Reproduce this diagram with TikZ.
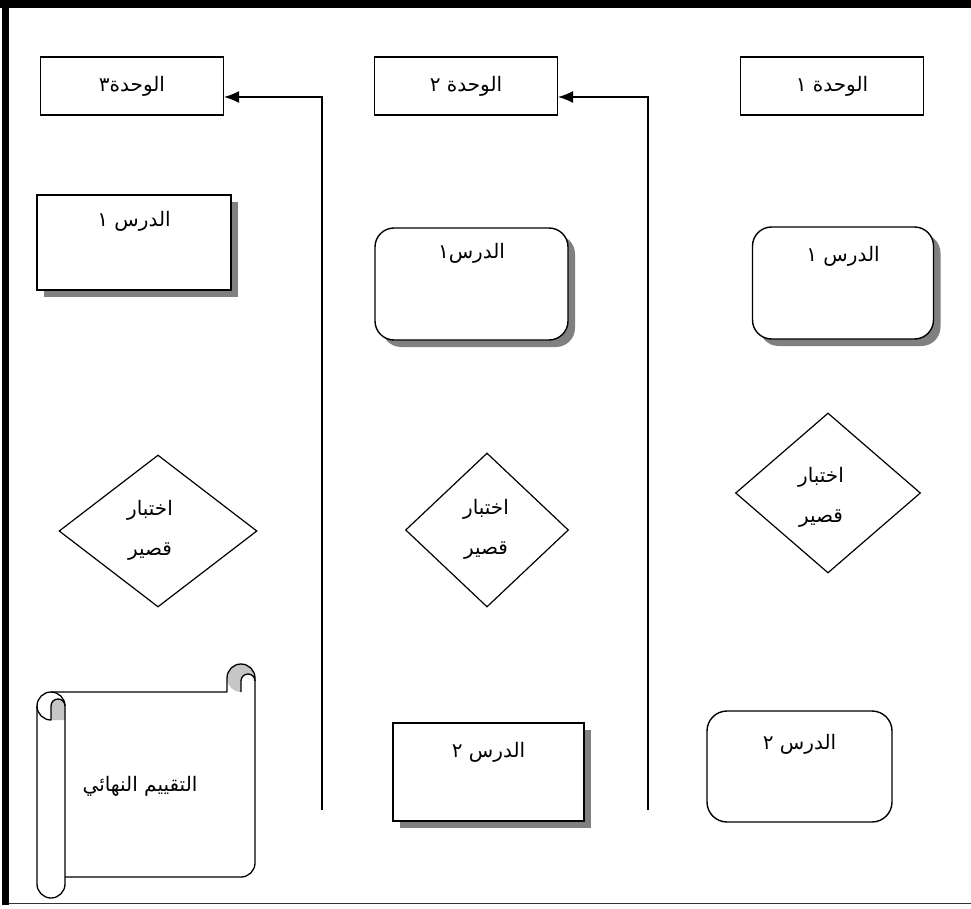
\documentclass[tikz,border=0pt]{standalone}
\usepackage{fontspec}
\usetikzlibrary{shapes.geometric,shadows,arrows.meta}
\newfontfamily\arabicfont[Script=Arabic]{DejaVu Sans}
\TeXXeTstate=1
\newcommand{\artext}[1]{{\arabicfont\beginR #1\endR}}
\tikzset{
  txt/.style={font=\fontsize{20}{40}\selectfont, inner sep=0pt, align=center},
  unitbox/.style={txt, draw, line width=1.1pt, minimum width=183pt, minimum height=58pt, fill=white},
  lessonbox/.style={draw, line width=1.4pt, inner sep=0pt, fill=white,
    drop shadow={shadow xshift=7pt, shadow yshift=-7pt, fill=gray, opacity=1}},
  roundbox/.style={lessonbox, rounded corners=19pt},
  quiz/.style={diamond, draw, line width=1.2pt, inner sep=0pt, fill=white},
  flow/.style={line width=1.3pt},
  tip/.style={-{Latex[length=15pt,width=12pt]}},
  scrollline/.style={line width=1.3pt, line join=round}
}
\begin{document}
\begin{tikzpicture}[x=1pt,y=-1pt]
\useasboundingbox (0,0) rectangle (971,909);
% page frame
\fill[white] (0,0) rectangle (971,909);
\fill[black] (0,0) rectangle (971,8);
\fill[black] (2,0) rectangle (9,905);
\draw[line width=1.2pt, black!80] (9,903.5) -- (971,903.5);

% unit headings
\node[unitbox] (U3) at (132,86) {\artext{الوحدة٣}};
\node[unitbox] (U2) at (466,86) {\artext{الوحدة ٢}};
\node[unitbox] (U1) at (832,86) {\artext{الوحدة ١}};

% unit 3 column
\node[lessonbox, minimum width=194pt, minimum height=95pt] (L31) at (134,242.5) {};
\node[txt] (L31t) at (134,221) {\artext{الدرس ١}};
\node[quiz, minimum width=198pt, minimum height=152pt] (D3) at (158,531) {};
\node[txt] (D3t) at (150,530) {\artext{اختبار}\\\artext{قصير}};

% final assessment scroll
\fill[gray!45] (241,678) circle[radius=14];
\fill[white] (241,692) -- (241,681) arc[start angle=180,end angle=360,radius=7] -- (255,692) -- cycle;
\draw[scrollline] (65,877) -- (241,877) arc[start angle=90,end angle=0,radius=14]
  -- (255,678) arc[start angle=0,end angle=-180,radius=14] -- (227,692) -- (51,692);
\draw[scrollline] (241,692) -- (241,681) arc[start angle=180,end angle=360,radius=7];
\fill[gray!45] (51,720) -- (51,706) arc[start angle=180,end angle=360,radius=7] -- (65,720) -- cycle;
\draw[scrollline, rounded corners=14pt] (37,692) rectangle (65,898);
\draw[scrollline] (37,706) arc[start angle=180,end angle=90,radius=14]
  -- (51,706) arc[start angle=180,end angle=360,radius=7];
\node[txt] (FINAL) at (140,786) {\artext{التقييم النهائي}};

% unit 2 column
\node[roundbox, minimum width=193pt, minimum height=112pt] (L21) at (471.5,284) {};
\node[txt] (L21t) at (471.5,253) {\artext{الدرس١}};
\node[quiz, minimum width=163pt, minimum height=154pt] (D2) at (487,530) {};
\node[txt] (D2t) at (486,529) {\artext{اختبار}\\\artext{قصير}};
\node[lessonbox, minimum width=191pt, minimum height=98pt] (L22) at (488.5,772) {};
\node[txt] (L22t) at (488.5,752) {\artext{الدرس ٢}};

% unit 1 column
\node[roundbox, minimum width=181pt, minimum height=112pt] (L11) at (843,283) {};
\node[txt] (L11t) at (843,256) {\artext{الدرس ١}};
\node[quiz, minimum width=185pt, minimum height=160pt] (D1) at (828,493) {};
\node[txt] (D1t) at (821,497) {\artext{اختبار}\\\artext{قصير}};
\node[draw, line width=1.4pt, rounded corners=20pt, inner sep=0pt,
      minimum width=185pt, minimum height=111pt] (L12) at (799.5,766.5) {};
\node[txt] (L12t) at (799.5,744) {\artext{الدرس ٢}};

% links between units
\coordinate (b3) at (322,810);
\coordinate (k3) at (322,97);
\draw[flow, tip] (b3) -- (k3) -- (U3.east |- k3);
\coordinate (b2) at (648,810);
\coordinate (k2) at (648,97);
\draw[flow, tip] (b2) -- (k2) -- (U2.east |- k2);
\end{tikzpicture}
\end{document}
